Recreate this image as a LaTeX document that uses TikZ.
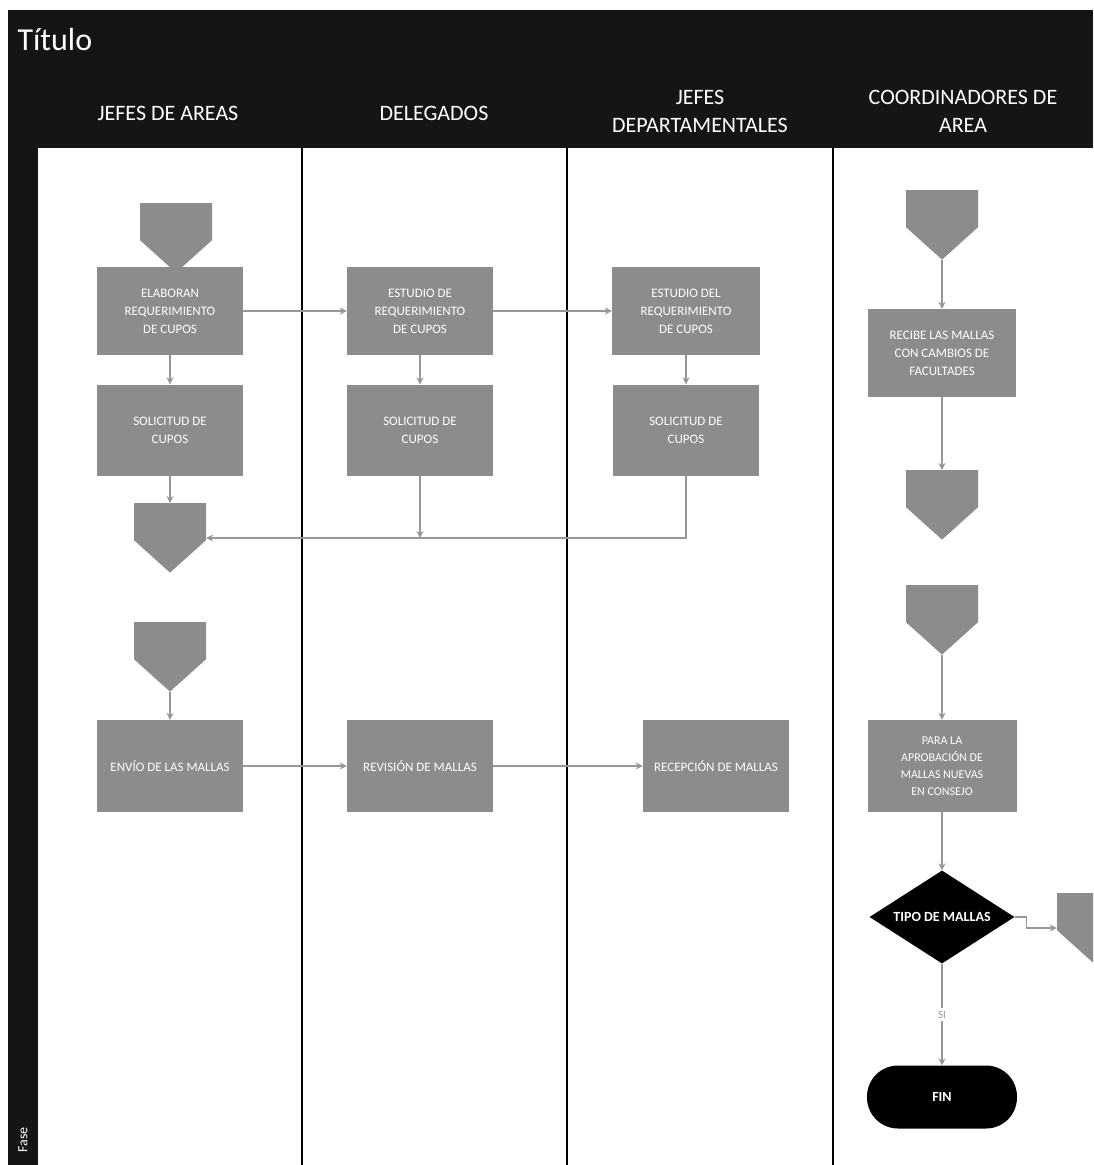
\documentclass[tikz,border=0pt]{standalone}
\usepackage{fontspec}
\setmainfont{Carlito}
\usetikzlibrary{shapes.geometric, shapes.symbols, arrows.meta, positioning}
\definecolor{boxgray}{HTML}{8C8C8C}
\definecolor{linegray}{HTML}{979797}
\definecolor{headblack}{HTML}{151515}
\tikzset{
    process/.style={rectangle, minimum width=146pt, minimum height=88pt, align=center, fill=boxgray, text=white, font=\fontsize{13}{18}\selectfont},
    offpage/.style={signal, signal to=south, signal from=nowhere, signal pointer angle=96, minimum width=72pt, minimum height=37pt, inner sep=0pt, fill=boxgray},
    decision/.style={diamond, aspect=1.56, minimum width=145pt, minimum height=93pt, inner sep=0pt, align=center, fill=black, text=white, font=\fontsize{14}{16}\selectfont\bfseries},
    startstop/.style={rectangle, rounded corners=31pt, minimum width=150pt, minimum height=63pt, align=center, fill=black, text=white, font=\fontsize{14}{16}\selectfont\bfseries},
    lanehead/.style={text=white, align=center, font=\fontsize{22}{28}\selectfont},
    arrow/.style={draw=linegray, line width=1.3pt, -{Stealth[length=7pt,width=7pt]}},
    lane/.style={draw=black, line width=2pt}
}

\begin{document}
\begin{tikzpicture}[x=1pt, y=-1pt]
    \clip (0,0) rectangle (1093,1165);
    \fill[white] (0,0) rectangle (1093,1165);

    % Header and left strip
    \fill[headblack] (8,10) rectangle (1093,148);
    \fill[headblack] (8,148) rectangle (38,1165);
    \node[lanehead, anchor=west, font=\fontsize{32}{38}\selectfont] (titulo) at (14,40) {Título};
    \node[lanehead] (hA) at (168,113) {JEFES DE AREAS};
    \node[lanehead] (hB) at (434,113) {DELEGADOS};
    \node[lanehead] (hC) at (700,111) {JEFES\\DEPARTAMENTALES};
    \node[lanehead] (hD) at (963,111) {COORDINADORES DE\\AREA};
    \node[text=white, rotate=90, font=\fontsize{14}{16}\selectfont] (fase) at (23,1140) {Fase};

    % Lanes
    \foreach \x in {302, 567, 833} {
        \draw[lane] (\x,148) -- (\x,1165);
    }

    % Jefes de areas
    \node[process] (A1) at (170,311) {ELABORAN\\REQUERIMIENTO\\DE CUPOS};
    \node[offpage, anchor=north] (A0) at (176,203) {};
    \node[process, minimum height=91pt] (A2) at (170,430) {SOLICITUD DE\\CUPOS};
    \node[offpage, anchor=north] (A3) at (170,503) {};
    \node[offpage, anchor=north] (A4) at (170,622) {};
    \node[process, minimum height=92pt] (A5) at (170,766) {ENVÍO DE LAS MALLAS};

    % Delegados
    \node[process] (B1) at (420,311) {ESTUDIO DE\\REQUERIMIENTO\\DE CUPOS};
    \node[process, minimum height=91pt] (B2) at (420,430) {SOLICITUD DE\\CUPOS};
    \node[process, minimum height=92pt] (B5) at (420,766) {REVISIÓN DE MALLAS};

    % Jefes departamentales
    \node[process, minimum width=148pt] (C1) at (686,311) {ESTUDIO DEL\\REQUERIMIENTO\\DE CUPOS};
    \node[process, minimum height=91pt] (C2) at (686,430) {SOLICITUD DE\\CUPOS};
    \node[process, minimum height=92pt] (C5) at (716,766) {RECEPCIÓN DE MALLAS};

    % Coordinadores de area
    \node[offpage, anchor=north] (D1) at (942,190) {};
    \node[process, minimum width=148pt] (D2) at (942,353) {RECIBE LAS MALLAS\\CON CAMBIOS DE\\FACULTADES};
    \node[offpage, anchor=north] (D3) at (942,470) {};
    \node[offpage, anchor=north] (D4) at (942,585) {};
    \node[process, minimum width=149pt, minimum height=92pt, font=\fontsize{12}{17}\selectfont] (D5) at (942,766) {PARA LA\\APROBACIÓN DE\\MALLAS NUEVAS\\EN CONSEJO};
    \node[decision] (tipo) at (942,917) {TIPO DE MALLAS};
    \node[offpage, anchor=north] (D6) at (1093,893) {};
    \node[startstop] (fin) at (942,1097) {FIN};

    % Connectors
    \draw[arrow] (A1) -- (B1);
    \draw[arrow] (B1) -- (C1);
    \draw[arrow] (A1.south) -- (A2.north);
    \draw[arrow] (B1.south) -- (B2.north);
    \draw[arrow] (C1.south) -- (C2.north);
    \draw[arrow] (A2.south) -- (A3.north);
    \coordinate (A3in) at ([yshift=-35pt]A3.north east);
    \coordinate (join) at (B2.south |- A3in);
    \draw[arrow] (B2.south) -- (join);
    \draw[arrow] (C2.south) |- (A3in);
    \draw[arrow] (A4.south) -- (A5.north);
    \draw[arrow] (A5) -- (B5);
    \draw[arrow] (B5) -- (C5);
    \draw[arrow] (D1.south) -- (D2.north);
    \draw[arrow] (D2.south) -- (D3.north);
    \draw[arrow] (D4.south) -- (D5.north);
    \draw[arrow] (D5.south) -- (tipo.north);
    \draw[arrow] (tipo.east) -- ++(12,0) |- ([yshift=-35pt]D6.north west);
    \draw[arrow] (tipo.south) -- node[fill=white, text=linegray, font=\fontsize{11}{13}\selectfont] (si) {SI} (fin.north);
\end{tikzpicture}
\end{document}
